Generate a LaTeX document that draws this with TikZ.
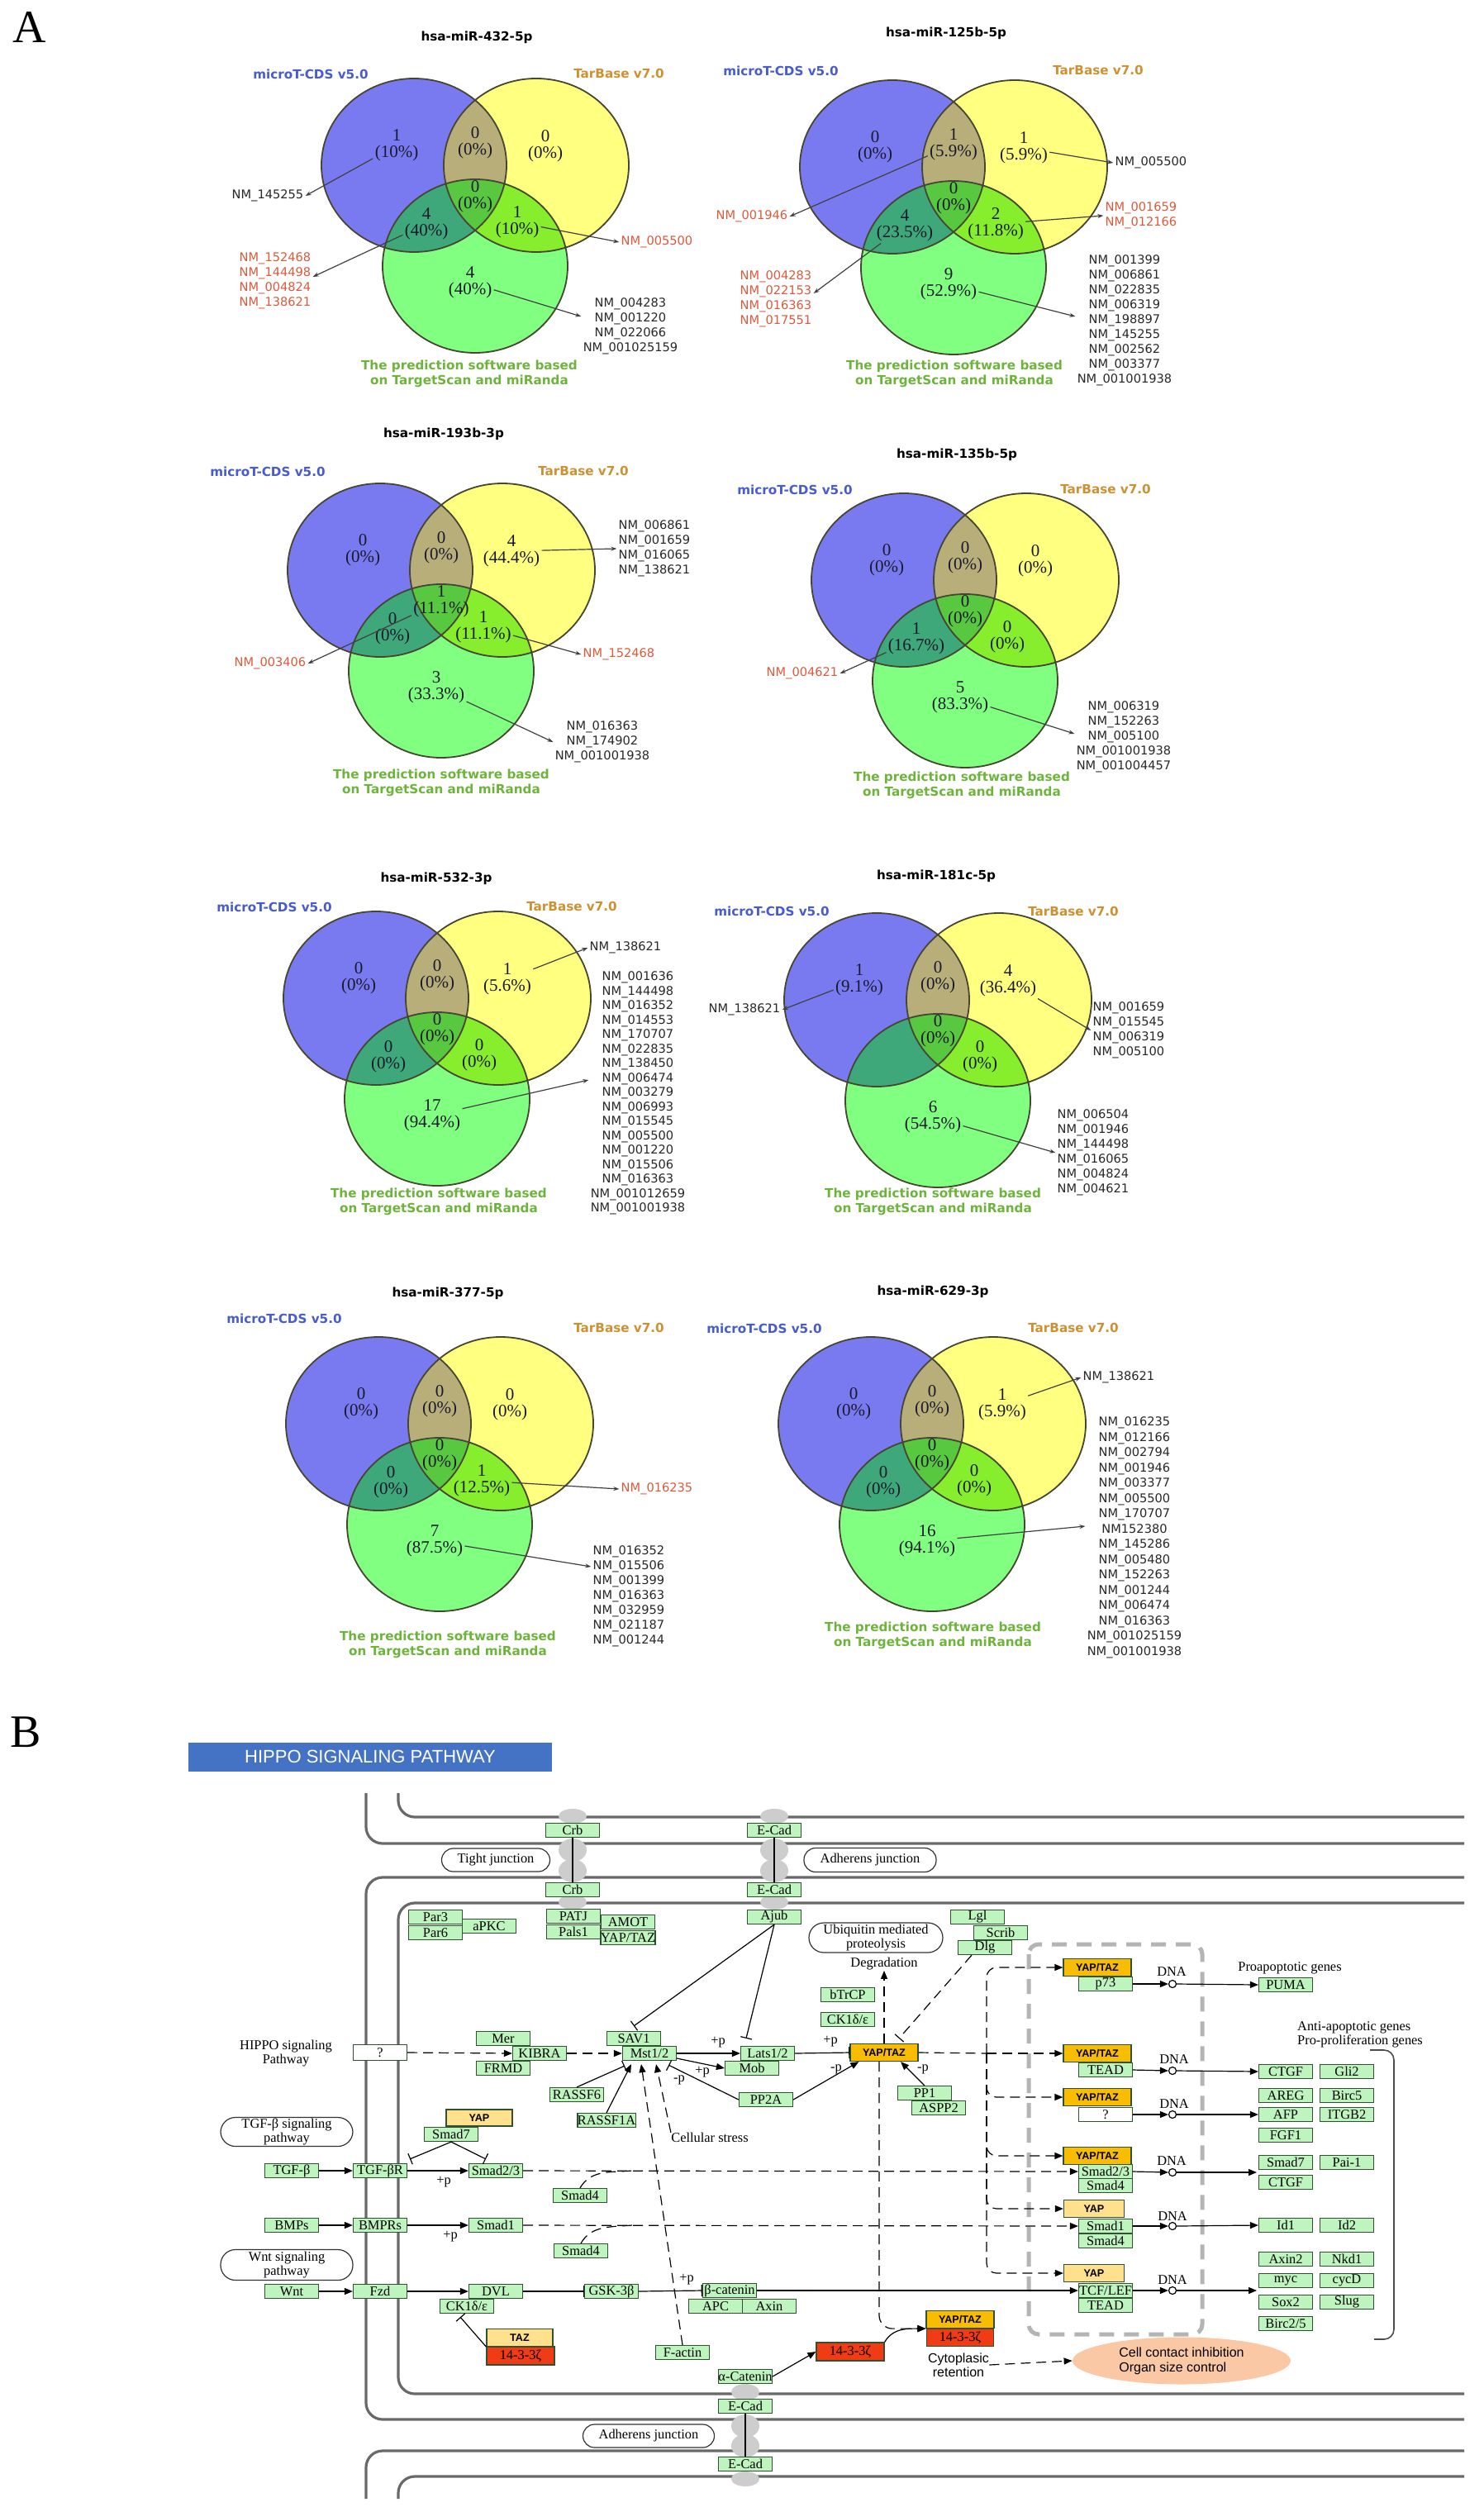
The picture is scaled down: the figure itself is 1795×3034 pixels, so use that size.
\documentclass[tikz,border=0pt]{standalone}
\usepackage{fontspec}
\setmainfont{Liberation Serif}
\setsansfont{Liberation Sans}
\newfontfamily\vsans{DejaVu Sans}
\usetikzlibrary{arrows.meta,shapes.geometric}

\definecolor{vblue}{RGB}{122,122,240}
\definecolor{vyel}{RGB}{255,255,128}
\definecolor{vgrn}{RGB}{128,255,128}
\definecolor{vby}{RGB}{184,174,122}
\definecolor{vbg}{RGB}{62,168,122}
\definecolor{vyg}{RGB}{134,238,44}
\definecolor{vbyg}{RGB}{88,200,64}
\definecolor{vline}{RGB}{70,70,50}
\definecolor{microblue}{RGB}{72,92,205}
\definecolor{tarorange}{RGB}{205,145,50}
\definecolor{predgreen}{RGB}{110,180,60}
\definecolor{nmred}{RGB}{220,90,60}
\definecolor{nmgrey}{RGB}{40,40,40}
\definecolor{cntdark}{RGB}{25,25,45}
\definecolor{kgreen}{RGB}{190,245,190}
\definecolor{kedge}{RGB}{50,80,50}
\definecolor{korange}{RGB}{248,188,0}
\definecolor{klight}{RGB}{255,224,140}
\definecolor{kred}{RGB}{240,60,20}
\definecolor{membgrey}{RGB}{105,105,105}
\definecolor{blobgrey}{RGB}{205,205,205}
\definecolor{nucgrey}{RGB}{180,180,180}
\definecolor{cellpeach}{RGB}{250,200,165}
\definecolor{hdrblue}{RGB}{68,114,196}

\tikzset{
  vtitle/.style={font=\vsans\bfseries\fontsize{7.6}{9}\selectfont, inner sep=0pt},
  mlabel/.style={vtitle, text=microblue},
  tlabel/.style={vtitle, text=tarorange},
  plabel/.style={vtitle, text=predgreen, align=center},
  cnt/.style={font=\fontsize{10.5}{10}\selectfont, text=cntdark, align=center, inner sep=1pt},
  nm/.style={font=\vsans\fontsize{7.3}{9}\selectfont, text=nmgrey, align=center, inner sep=1pt},
  nmred/.style={nm, text=nmred},
  lead/.style={draw=black!75, line width=0.6pt, -{Stealth[length=3.5pt,width=2.5pt]}},
  memb/.style={draw=membgrey, line width=1.6pt, rounded corners=10pt},
  blob/.style={fill=blobgrey},
  gb/.style={draw=kedge, fill=kgreen, line width=0.6pt, minimum width=32.5pt, minimum height=8.5pt, inner sep=0pt, font=\fontsize{8.2}{8.5}\selectfont},
  ob/.style={gb, fill=korange, minimum width=41pt, minimum height=10.5pt, font=\sffamily\bfseries\fontsize{6.3}{7}\selectfont},
  lb/.style={ob, fill=klight},
  rb/.style={gb, fill=kred, minimum width=41pt, minimum height=11pt},
  wb/.style={gb, fill=white, minimum height=9.5pt},
  jb/.style={draw=black!80, line width=0.6pt, rounded corners=7pt, align=center, font=\fontsize{8.2}{8.5}\selectfont, inner sep=0pt},
  lab/.style={font=\fontsize{8.2}{8.5}\selectfont, align=center, inner sep=0pt},
  dnac/.style={circle, draw, fill=white, line width=0.6pt, minimum size=4.5pt, inner sep=0pt},
  arr/.style={line width=0.6pt, -{Triangle[length=5pt,width=4pt]}},
  darr/.style={arr, dash pattern=on 6pt off 3.5pt},
  inh/.style={line width=0.6pt, -{Bar[width=7pt]}},
  dinh/.style={inh, dash pattern=on 6pt off 3.5pt},
  dline/.style={line width=0.6pt, dash pattern=on 6pt off 3.5pt},
  hdr/.style={fill=hdrblue, text=white, font=\sffamily\fontsize{11}{12}\selectfont, minimum width=220pt, minimum height=17.5pt, inner sep=0pt}
}

\newcommand{\vennbase}[2]{%
\begin{scope}[shift={(#1,#2)}]
\fill[vblue] (-74,0) ellipse [x radius=56pt, y radius=52.5pt];
\fill[vyel] (74,0) ellipse [x radius=56pt, y radius=52.5pt];
\fill[vgrn] (0,122) ellipse [x radius=56pt, y radius=52.5pt];
\begin{scope}
\clip (-74,0) ellipse [x radius=56pt, y radius=52.5pt];
\fill[vby] (74,0) ellipse [x radius=56pt, y radius=52.5pt];
\fill[vbg] (0,122) ellipse [x radius=56pt, y radius=52.5pt];
\end{scope}
\begin{scope}
\clip (74,0) ellipse [x radius=56pt, y radius=52.5pt];
\fill[vyg] (0,122) ellipse [x radius=56pt, y radius=52.5pt];
\clip (-74,0) ellipse [x radius=56pt, y radius=52.5pt];
\fill[vbyg] (0,122) ellipse [x radius=56pt, y radius=52.5pt];
\end{scope}
\draw[vline, line width=0.9pt] (-74,0) ellipse [x radius=56pt, y radius=52.5pt]
  (74,0) ellipse [x radius=56pt, y radius=52.5pt]
  (0,122) ellipse [x radius=56pt, y radius=52.5pt];
\end{scope}}

\newcommand{\vcounts}[8]{%
\node[cnt] (#1b) at (-95,-24) {#2};
\node[cnt] (#1by) at (0,-27) {#3};
\node[cnt] (#1y) at (85,-23) {#4};
\node[cnt] (#1c) at (0,38) {#5};
\node[cnt] (#1bg) at (-59,71) {#6};
\node[cnt] (#1yg) at (51,69) {#7};
\node[cnt] (#1g) at (-6,142) {#8};}

\begin{document}
\begin{tikzpicture}[x=0.5pt,y=-0.5pt]
\useasboundingbox (0,0) rectangle (1795,3034);
\fill[white] (0,0) rectangle (1795,3034);

\node[font=\fontsize{28}{30}\selectfont] (lblA) at (36,33) {A};

% hsa-miR-432-5p
\vennbase{575}{200}
\begin{scope}[shift={(575,200)}]
\vcounts{va}{1\\(10\%)}{0\\(0\%)}{0\\(0\%)}{0\\(0\%)}{4\\(40\%)}{1\\(10\%)}{4\\(40\%)}
\end{scope}
\node[vtitle] (vat) at (577,45) {hsa-miR-432-5p};
\node[mlabel] (vam) at (376,90) {microT-CDS v5.0};
\node[tlabel] (vatb) at (749,89) {TarBase v7.0};
\node[plabel] (vap) at (568,452) {The prediction software based\\on TargetScan and miRanda};
\node[nm] (val1) at (324,237) {NM\_145255};
\node[nmred] (val2) at (333,340) {NM\_152468\\NM\_144498\\NM\_004824\\NM\_138621};
\node[nmred] (val3) at (795,293) {NM\_005500};
\node[nm] (val4) at (763,395) {NM\_004283\\NM\_001220\\NM\_022066\\NM\_001025159};
\draw[lead] (vab) -- (val1.east);
\draw[lead] (vabg) -- ([yshift=2.5pt]val2.east);
\draw[lead] (vayg) -- (val3.west);
\draw[lead] (vag) -- ([yshift=6pt]val4.west);

% hsa-miR-125b-5p
\vennbase{1154}{202}
\begin{scope}[shift={(1154,202)}]
\vcounts{vb}{0\\(0\%)}{1\\(5.9\%)}{1\\(5.9\%)}{0\\(0\%)}{4\\(23.5\%)}{2\\(11.8\%)}{9\\(52.9\%)}
\end{scope}
\node[vtitle] (vbt) at (1145,40) {hsa-miR-125b-5p};
\node[mlabel] (vbm) at (945,86) {microT-CDS v5.0};
\node[tlabel] (vbtb) at (1329,85) {TarBase v7.0};
\node[plabel] (vbp) at (1155,452) {The prediction software based\\on TargetScan and miRanda};
\node[nm] (vbl1) at (1393,197) {NM\_005500};
\node[nmred] (vbl2) at (910,262) {NM\_001946};
\node[nmred] (vbl3) at (1381,261) {NM\_001659\\NM\_012166};
\node[nmred] (vbl4) at (939,362) {NM\_004283\\NM\_022153\\NM\_016363\\NM\_017551};
\node[nm] (vbl5) at (1361,388) {NM\_001399\\NM\_006861\\NM\_022835\\NM\_006319\\NM\_198897\\NM\_145255\\NM\_002562\\NM\_003377\\NM\_001001938};
\draw[lead] (vby) -- (vbl1.west);
\draw[lead] (vbby) -- (vbl2.east);
\draw[lead] (vbyg) -- (vbl3.west);
\draw[lead] (vbbg) -- ([yshift=3.5pt]vbl4.east);
\draw[lead] (vbg) -- ([yshift=2.5pt]vbl5.west);

% hsa-miR-193b-3p
\vennbase{534}{690}
\begin{scope}[shift={(534,690)}]
\vcounts{vc}{0\\(0\%)}{0\\(0\%)}{4\\(44.4\%)}{1\\(11.1\%)}{0\\(0\%)}{1\\(11.1\%)}{3\\(33.3\%)}
\end{scope}
\node[vtitle] (vct) at (537,525) {hsa-miR-193b-3p};
\node[mlabel] (vcm) at (324,571) {microT-CDS v5.0};
\node[tlabel] (vctb) at (706,570) {TarBase v7.0};
\node[plabel] (vcp) at (534,947) {The prediction software based\\on TargetScan and miRanda};
\node[nm] (vcl1) at (792,664) {NM\_006861\\NM\_001659\\NM\_016065\\NM\_138621};
\node[nmred] (vcl2) at (327,803) {NM\_003406};
\node[nmred] (vcl3) at (749,792) {NM\_152468};
\node[nm] (vcl4) at (729,898) {NM\_016363\\NM\_174902\\NM\_001001938};
\draw[lead] (vcy) -- (vcl1.west);
\draw[lead] (vcc) -- (vcl2.east);
\draw[lead] (vcyg) -- (vcl3.west);
\draw[lead] (vcg) -- (vcl4.west);

% hsa-miR-135b-5p
\vennbase{1168}{702}
\begin{scope}[shift={(1168,702)}]
\vcounts{vd}{0\\(0\%)}{0\\(0\%)}{0\\(0\%)}{0\\(0\%)}{1\\(16.7\%)}{0\\(0\%)}{5\\(83.3\%)}
\end{scope}
\node[vtitle] (vdt) at (1158,550) {hsa-miR-135b-5p};
\node[mlabel] (vdm) at (962,593) {microT-CDS v5.0};
\node[tlabel] (vdtb) at (1338,592) {TarBase v7.0};
\node[plabel] (vdp) at (1164,950) {The prediction software based\\on TargetScan and miRanda};
\node[nmred] (vdl1) at (971,815) {NM\_004621};
\node[nm] (vdl2) at (1360,892) {NM\_006319\\NM\_152263\\NM\_005100\\NM\_001001938\\NM\_001004457};
\draw[lead] (vdbg) -- (vdl1.east);
\draw[lead] (vdg) -- ([yshift=2pt]vdl2.west);

% hsa-miR-532-3p
\vennbase{529}{1208}
\begin{scope}[shift={(529,1208)}]
\vcounts{ve}{0\\(0\%)}{0\\(0\%)}{1\\(5.6\%)}{0\\(0\%)}{0\\(0\%)}{0\\(0\%)}{17\\(94.4\%)}
\end{scope}
\node[vtitle] (vet) at (528,1063) {hsa-miR-532-3p};
\node[mlabel] (vem) at (332,1098) {microT-CDS v5.0};
\node[tlabel] (vetb) at (692,1097) {TarBase v7.0};
\node[plabel] (vep) at (531,1454) {The prediction software based\\on TargetScan and miRanda};
\node[nm] (vel1) at (757,1147) {NM\_138621};
\node[nm, font=\vsans\fontsize{7.3}{8.75}\selectfont] (vel2) at (772,1323) {NM\_001636\\NM\_144498\\NM\_016352\\NM\_014553\\NM\_170707\\NM\_022835\\NM\_138450\\NM\_006474\\NM\_003279\\NM\_006993\\NM\_015545\\NM\_005500\\NM\_001220\\NM\_015506\\NM\_016363\\NM\_001012659\\NM\_001001938};
\draw[lead] (vey) -- (vel1.west);
\draw[lead] (veg) -- ([yshift=8pt]vel2.west);

% hsa-miR-181c-5p
\vennbase{1135}{1210}
\begin{scope}[shift={(1135,1210)}]
\vcounts{vf}{1\\(9.1\%)}{0\\(0\%)}{4\\(36.4\%)}{0\\(0\%)}{}{0\\(0\%)}{6\\(54.5\%)}
\end{scope}
\node[vtitle] (vft) at (1133,1060) {hsa-miR-181c-5p};
\node[mlabel] (vfm) at (934,1103) {microT-CDS v5.0};
\node[tlabel] (vftb) at (1299,1103) {TarBase v7.0};
\node[plabel] (vfp) at (1129,1454) {The prediction software based\\on TargetScan and miRanda};
\node[nm] (vfl1) at (901,1222) {NM\_138621};
\node[nm] (vfl2) at (1366,1247) {NM\_001659\\NM\_015545\\NM\_006319\\NM\_005100};
\node[nm] (vfl3) at (1323,1395) {NM\_006504\\NM\_001946\\NM\_144498\\NM\_016065\\NM\_004824\\NM\_004621};
\draw[lead] (vfb) -- (vfl1.east);
\draw[lead] (vfy) -- (vfl2.west);
\draw[lead] (vfg) -- (vfl3.west);

% hsa-miR-377-5p
\vennbase{532}{1723}
\begin{scope}[shift={(532,1723)}]
\vcounts{vg}{0\\(0\%)}{0\\(0\%)}{0\\(0\%)}{0\\(0\%)}{0\\(0\%)}{1\\(12.5\%)}{7\\(87.5\%)}
\end{scope}
\node[vtitle] (vgt) at (542,1565) {hsa-miR-377-5p};
\node[mlabel] (vgm) at (344,1596) {microT-CDS v5.0};
\node[tlabel] (vgtb) at (749,1607) {TarBase v7.0};
\node[plabel] (vgp) at (542,1990) {The prediction software based\\on TargetScan and miRanda};
\node[nmred] (vgl1) at (795,1802) {NM\_016235};
\node[nm] (vgl2) at (761,1932) {NM\_016352\\NM\_015506\\NM\_001399\\NM\_016363\\NM\_032959\\NM\_021187\\NM\_001244};
\draw[lead] (vgyg) -- (vgl1.west);
\draw[lead] (vgg) -- ([yshift=18pt]vgl2.west);

% hsa-miR-629-3p
\vennbase{1128}{1723}
\begin{scope}[shift={(1128,1723)}]
\vcounts{vh}{0\\(0\%)}{0\\(0\%)}{1\\(5.9\%)}{0\\(0\%)}{0\\(0\%)}{0\\(0\%)}{16\\(94.1\%)}
\end{scope}
\node[vtitle] (vht) at (1129,1563) {hsa-miR-629-3p};
\node[mlabel] (vhm) at (925,1608) {microT-CDS v5.0};
\node[tlabel] (vhtb) at (1299,1607) {TarBase v7.0};
\node[plabel] (vhp) at (1129,1979) {The prediction software based\\on TargetScan and miRanda};
\node[nm] (vhl1) at (1354,1667) {NM\_138621};
\node[nm, font=\vsans\fontsize{7.3}{9.25}\selectfont] (vhl2) at (1373,1861) {NM\_016235\\NM\_012166\\NM\_002794\\NM\_001946\\NM\_003377\\NM\_005500\\NM\_170707\\NM152380\\NM\_145286\\NM\_005480\\NM\_152263\\NM\_001244\\NM\_006474\\NM\_016363\\NM\_001025159\\NM\_001001938};
\draw[lead] (vhy) -- (vhl1.west);
\draw[lead] (vhg) -- ([yshift=7pt]vhl2.west);

% B: Hippo pathway
\node[font=\fontsize{28}{30}\selectfont] (lblB) at (31,2096) {B};
\node[hdr] (hdr) at (448,2126) {HIPPO SIGNALING PATHWAY};

\draw[memb] (482,2170) |- (1772,2199);
\draw[memb] (443,2170) |- (1772,2231);
\draw[memb] (1772,2272) -- (443,2272) -- (443,2928) -- (1772,2928);
\draw[memb] (1772,2303) -- (482,2303) -- (482,2897) -- (1772,2897);
\draw[memb] (443,3024) |- (1772,2966);
\draw[memb] (482,3024) |- (1772,2997);

\foreach \bx in {693,937}{
  \fill[blob] (\bx,2198) ellipse [x radius=8.5pt, y radius=4.5pt];
  \fill[blob] (\bx,2239) ellipse [x radius=8.5pt, y radius=7pt];
  \fill[blob] (\bx,2264) ellipse [x radius=8.5pt, y radius=7pt];
  \fill[blob] (\bx,2302) ellipse [x radius=8.5pt, y radius=4.5pt];
}
\fill[blob] (902,2895) ellipse [x radius=8.5pt, y radius=5pt];
\fill[blob] (902,2936) ellipse [x radius=8.5pt, y radius=7pt];
\fill[blob] (902,2960) ellipse [x radius=8.5pt, y radius=7pt];
\fill[blob] (902,3000) ellipse [x radius=8.5pt, y radius=4.5pt];

\draw[draw=nucgrey, line width=2.5pt, dash pattern=on 9pt off 6pt, rounded corners=6pt]
  (1245,2353) rectangle (1455,2825);

\node[gb] (crbT) at (693,2215) {Crb};
\node[gb] (crbB) at (693,2287) {Crb};
\node[gb] (ecadT) at (937,2215) {E-Cad};
\node[gb] (ecadB) at (937,2287) {E-Cad};
\node[jb, minimum width=65.5pt, minimum height=14pt] (tight) at (600,2251) {Tight junction};
\node[jb, minimum width=80pt, minimum height=14.5pt] (adh1) at (1053,2251) {Adherens junction};
\node[gb] (par3) at (527,2320) {Par3};
\node[gb] (par6) at (527,2339) {Par6};
\node[gb] (apkc) at (592,2331) {aPKC};
\node[gb] (patj) at (694,2319) {PATJ};
\node[gb] (pals) at (694,2338) {Pals1};
\node[gb] (amot) at (760,2326) {AMOT};
\node[gb] (yapg) at (760,2345) {YAP/TAZ};
\node[gb] (ajub) at (937,2320) {Ajub};
\node[lab] (hippo) at (346,2485) {HIPPO signaling\\Pathway};
\node[wb] (hq) at (460,2484) {?};
\node[gb] (mer) at (609,2467) {Mer};
\node[gb] (kibra) at (653,2485) {KIBRA};
\node[gb] (frmd) at (609,2503) {FRMD};
\node[gb] (sav) at (767,2467) {SAV1};
\node[gb] (mst) at (786,2485) {Mst1/2};
\node[gb] (lats) at (929,2485) {Lats1/2};
\node[gb] (mob) at (910,2503) {Mob};
\node[gb] (rassf6) at (698,2535) {RASSF6};
\node[gb] (rassf1a) at (734,2566) {RASSF1A};
\node[gb] (pp2a) at (927,2541) {PP2A};
\node[lb, minimum width=40pt, minimum height=10pt] (yaps) at (580,2563) {YAP};
\node[gb] (smad7) at (546,2583) {Smad7};
\node[jb, minimum width=80pt, minimum height=17.5pt, rounded corners=9pt] (tgfp) at (347,2580) {TGF-β signaling\\pathway};
\node[lab] (cstress) at (859,2587) {Cellular stress};
\node[gb] (tgfb) at (353,2627) {TGF-β};
\node[gb] (tgfr) at (460,2627) {TGF-βR};
\node[gb] (smad23) at (600,2627) {Smad2/3};
\node[gb] (smad4a) at (702,2657) {Smad4};
\node[gb] (bmps) at (353,2693) {BMPs};
\node[gb] (bmpr) at (460,2693) {BMPRs};
\node[gb] (smad1) at (600,2693) {Smad1};
\node[gb] (smad4b) at (703,2724) {Smad4};
\node[jb, minimum width=80pt, minimum height=18.5pt, rounded corners=9pt] (wntp) at (347,2741) {Wnt signaling\\pathway};
\node[gb] (wnt) at (353,2773) {Wnt};
\node[gb] (fzd) at (460,2773) {Fzd};
\node[gb] (dvl) at (600,2773) {DVL};
\node[gb] (ck1a) at (565,2791) {CK1δ/ε};
\node[gb] (gsk) at (740,2773) {GSK-3β};
\node[gb] (bcat) at (883,2772) {β-catenin};
\node[gb] (apc) at (866,2791) {APC};
\node[gb] (axin) at (931,2791) {Axin};
\node[lb, minimum width=40pt] (taz) at (629,2829) {TAZ};
\node[rb] (taz14) at (630,2851) {14-3-3ζ};
\node[gb] (factin) at (826,2847) {F-actin};
\node[gb] (acat) at (902,2876) {α-Catenin};
\node[gb] (ecad3) at (902,2912) {E-Cad};
\node[gb] (ecad4) at (902,2982) {E-Cad};
\node[jb, minimum width=79.5pt, minimum height=14pt] (adh2) at (785,2948) {Adherens junction};
\node[jb, minimum width=81pt, minimum height=18pt, rounded corners=9pt] (ubq) at (1060,2345) {Ubiquitin mediated\\proteolysis};
\node[lab] (degr) at (1070,2377) {Degradation};
\node[gb] (lgl) at (1183,2320) {Lgl};
\node[gb] (scrib) at (1211,2339) {Scrib};
\node[gb] (dlg) at (1192,2357) {Dlg};
\node[gb] (btrcp) at (1026,2414) {bTrCP};
\node[gb] (ck1b) at (1026,2444) {CK1δ/ε};
\node[ob] (yt) at (1070,2484) {YAP/TAZ};
\node[gb] (pp1) at (1119,2533) {PP1};
\node[gb] (aspp2) at (1136,2551) {ASPP2};

\node[ob] (yt1) at (1328,2381) {YAP/TAZ};
\node[gb] (p73) at (1338,2401) {p73};
\node[dnac] (dna1) at (1419,2401) {};
\node[lab] (dl1) at (1418,2386) {DNA};
\node[gb] (puma) at (1556,2402) {PUMA};
\node[lab] (prog) at (1561,2382) {Proapoptotic genes};
\node[ob] (yt2) at (1328,2485) {YAP/TAZ};
\node[gb] (tead1) at (1338,2505) {TEAD};
\node[dnac] (dna2) at (1419,2506) {};
\node[lab] (dl2) at (1421,2492) {DNA};
\node[gb] (ctgf1) at (1556,2507) {CTGF};
\node[gb] (gli2) at (1630,2507) {Gli2};
\node[lab, align=left] (anti) at (1646,2462) {Anti-apoptotic genes\\Pro-proliferation genes};
\node[ob] (yt3) at (1328,2538) {YAP/TAZ};
\node[wb, minimum height=8.5pt] (qn) at (1338,2559) {?};
\node[dnac] (dna3) at (1419,2559) {};
\node[lab] (dl3) at (1421,2546) {DNA};
\node[gb] (areg) at (1556,2536) {AREG};
\node[gb] (birc5) at (1630,2536) {Birc5};
\node[gb] (afp) at (1556,2559) {AFP};
\node[gb] (itgb2) at (1630,2559) {ITGB2};
\node[gb] (fgf1) at (1556,2584) {FGF1};
\node[ob] (yt4) at (1328,2609) {YAP/TAZ};
\node[gb] (smad23b) at (1338,2628) {Smad2/3};
\node[gb] (smad4c) at (1338,2645) {Smad4};
\node[dnac] (dna4) at (1419,2629) {};
\node[lab] (dl4) at (1418,2615) {DNA};
\node[gb] (smad7b) at (1556,2617) {Smad7};
\node[gb] (pai1) at (1630,2617) {Pai-1};
\node[gb] (ctgf2) at (1556,2641) {CTGF};
\node[lb, minimum width=36.5pt] (yap2) at (1324,2673) {YAP};
\node[gb] (smad1b) at (1338,2694) {Smad1};
\node[gb] (smad4d) at (1338,2712) {Smad4};
\node[dnac] (dna5) at (1419,2694) {};
\node[lab] (dl5) at (1419,2682) {DNA};
\node[gb] (id1) at (1556,2693) {Id1};
\node[gb] (id2) at (1630,2693) {Id2};
\node[lb, minimum width=36.5pt] (yap3) at (1324,2751) {YAP};
\node[gb] (tcf) at (1338,2772) {TCF/LEF};
\node[gb] (tead2) at (1338,2790) {TEAD};
\node[dnac] (dna6) at (1419,2772) {};
\node[lab] (dl6) at (1419,2759) {DNA};
\node[gb] (axin2) at (1556,2734) {Axin2};
\node[gb] (nkd1) at (1630,2734) {Nkd1};
\node[gb] (myc) at (1556,2760) {myc};
\node[gb] (cycd) at (1630,2760) {cycD};
\node[gb] (sox2) at (1556,2786) {Sox2};
\node[gb] (slug) at (1630,2786) {Slug};
\node[gb] (birc25) at (1556,2812) {Birc2/5};
\node[ob] (yt5) at (1162,2807) {YAP/TAZ};
\node[rb, minimum width=40.5pt, minimum height=10.5pt] (r14b) at (1162,2829) {14-3-3ζ};
\node[rb] (r14a) at (1029,2846) {14-3-3ζ};
\node[lab, font=\sffamily\fontsize{8}{8.5}\selectfont] (cytret) at (1160,2862) {Cytoplasic\\retention};
\node[ellipse, fill=cellpeach, minimum width=132pt, minimum height=28.5pt, inner sep=0pt, align=left, font=\sffamily\fontsize{8}{9}\selectfont] (cellc) at (1430,2857) {Cell contact inhibition\\Organ size control};
\coordinate (g4) at (1521,2629);
\coordinate (g6) at (1521,2772);
\coordinate (brk) at (1194,2485);
\coordinate (j1) at (765,2627);
\coordinate (j2) at (765,2693);

\draw[line width=0.6pt] (crbT.south) -- (crbB.north);
\draw[line width=0.6pt] (ecadT.south) -- (ecadB.north);
\draw[line width=0.6pt] (ecad3.south) -- (ecad4.north);

\draw[darr] (hq.east) -- (kibra.west);
\draw[darr] (kibra.east) -- (mst.west);
\draw[arr] (mst.east) -- (lats.west);
\draw[arr] ([yshift=-3pt]mst.east) -- (mob.west);
\node[lab] (p1) at (869,2472) {+p};
\node[lab] (p2) at (850,2508) {+p};
\draw[inh] (ajub.south) -- ([yshift=3pt]sav.north);
\draw[inh] (ajub.south) -- ([xshift=-13pt,yshift=4.5pt]lats.north);
\draw[inh] (pp2a.west) -- ([xshift=-5pt,yshift=-2.5pt]mst.south east);
\node[lab] (p3) at (822,2517) {-p};
\draw[inh] (rassf6.north) -- ([xshift=-15pt,yshift=-3pt]mst.south);
\draw[arr] (rassf1a.north) -- ([xshift=-11pt,yshift=-2pt]mst.south);
\draw[darr] (factin.north) -- ([xshift=-5pt,yshift=-2pt]mst.south);
\draw[darr] (cstress.north west) -- ([xshift=4pt,yshift=-2pt]mst.south);
\draw[inh] (lats.east) -- (yt.west);
\node[lab] (p4) at (1005,2471) {+p};
\draw[arr] (pp2a.east) -- ([xshift=5.5pt]yt.south west);
\node[lab] (p5) at (1012,2504) {-p};
\draw[arr] (pp1.north) -- ([xshift=10pt]yt.south);
\node[lab] (p6) at (1117,2504) {-p};
\draw[darr] (yt.north) -- (degr.south);
\draw[dinh] ([xshift=-8pt]dlg.south) -- ([xshift=9pt,yshift=3pt]yt.north);

\draw[dline] (yt.east) -- (brk);
\draw[darr] (brk) -- (yt2.west);
\draw[darr, rounded corners=6pt] (brk) |- (yt1.west);
\draw[darr, rounded corners=6pt] (brk) |- (yt3.west);
\draw[darr, rounded corners=6pt] (brk) |- (yt4.west);
\draw[darr, rounded corners=6pt] (brk) |- (yap2.west);
\draw[darr, rounded corners=6pt] (brk) |- (yap3.west);
\draw[darr, rounded corners=8pt] ([xshift=-3pt]yt.south) |- (yt5.south west);
\draw[arr] (r14a.north east) to[out=60,in=180] (yt5.south west);
\draw[arr] (acat.east) -- (r14a.west);
\draw[darr] (cytret.east) -- (cellc.west);

\draw[arr] (p73.east) -- (dna1.west);
\draw[arr] (dna1.east) -- (puma.west);
\draw[arr] (tead1.east) -- (dna2.west);
\draw[arr] (dna2.east) -- (ctgf1.west);
\draw[arr] (qn.east) -- (dna3.west);
\draw[arr] (dna3.east) -- (afp.west);
\draw[arr] (smad23b.east) -- (dna4.west);
\draw[arr] (dna4.east) -- (g4);
\draw[arr] (smad1b.east) -- (dna5.west);
\draw[arr] (dna5.east) -- (id1.west);
\draw[arr] (tcf.east) -- (dna6.west);
\draw[arr] (dna6.east) -- (g6);
\draw[line width=0.8pt, black!70, rounded corners=6pt] (1658,2481) -- (1687,2481) -- (1687,2831) -- (1663,2831);

\draw[arr] (tgfb.east) -- (tgfr.west);
\draw[arr] (tgfr.east) -- (smad23.west);
\node[lab] (p7) at (537,2641) {+p};
\draw[inh] (smad7.south) -- ([xshift=18pt,yshift=2.5pt]tgfr.north);
\draw[inh] (smad7.south) -- ([xshift=-6pt,yshift=2.5pt]smad23.north);
\draw[darr] (smad23.east) -- (smad23b.west);
\draw[dline] (smad4a.north) to[out=60,in=185] (j1);
\draw[arr] (bmps.east) -- (bmpr.west);
\draw[arr] (bmpr.east) -- (smad1.west);
\node[lab] (p8) at (545,2707) {+p};
\draw[darr] (smad1.east) -- (smad1b.west);
\draw[dline] (smad4b.north) to[out=60,in=185] (j2);
\draw[arr] (wnt.east) -- (fzd.west);
\draw[arr] (fzd.east) -- (dvl.west);
\draw[inh] (dvl.east) -- (gsk.west);
\draw[inh] (gsk.east) -- (bcat.west);
\node[lab] (p9) at (831,2759) {+p};
\draw[arr] (bcat.east) -- (tcf.west);
\draw[inh] (taz.south west) -- ([xshift=-4pt,yshift=-2pt]ck1a.south);
\end{tikzpicture}
\end{document}
